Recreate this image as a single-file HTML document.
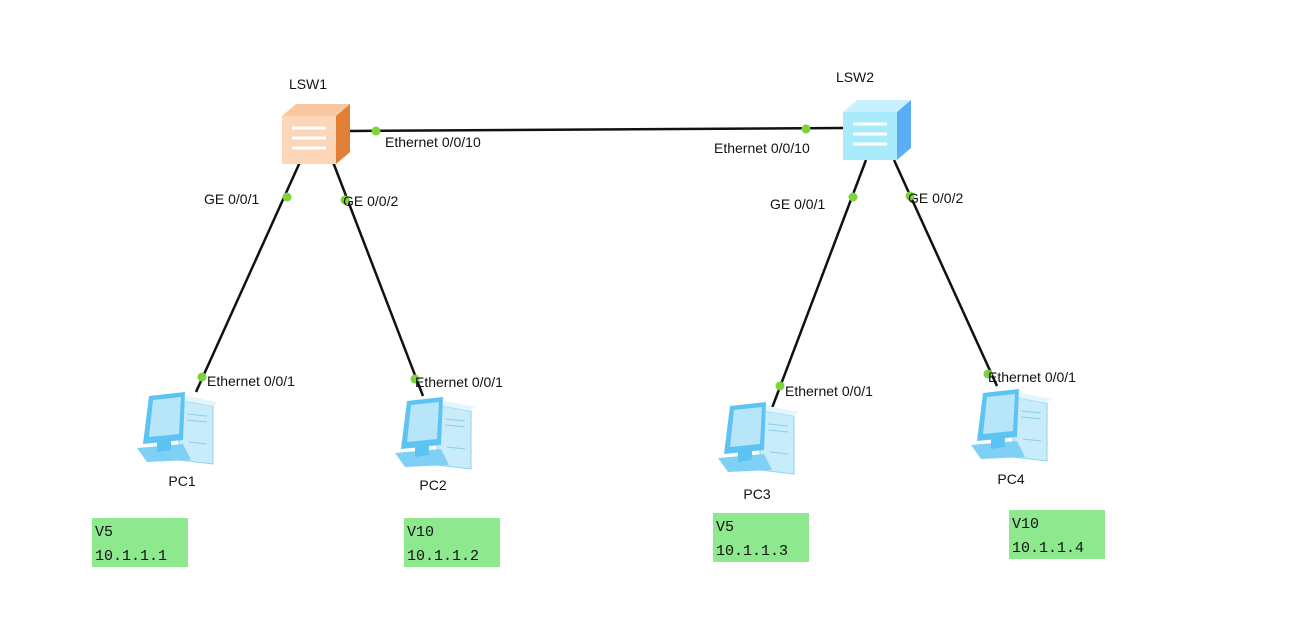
<!DOCTYPE html>
<html><head><meta charset="utf-8"><style>
html,body{margin:0;padding:0;background:#fff;}
svg{display:block;font-family:"Liberation Sans",Arial,sans-serif;}
.l{font-size:14px;fill:#111;}
.m{font-family:"Liberation Mono","DejaVu Sans Mono",monospace;font-size:15px;fill:#111;}
</style></head><body>
<svg width="1311" height="639" viewBox="0 0 1311 639">
<defs>
<g id="pc">
  <polygon points="42,10 76,16 76,74 42,70" fill="#c9ecfb" stroke="#8fd0f0"/>
  <polygon points="42,10 50,6 80,12 76,16" fill="#e3f6fd"/>
  <line x1="50" y1="24" x2="70" y2="26" stroke="#8fcde8"/>
  <line x1="50" y1="30" x2="70" y2="32" stroke="#8fcde8"/>
  <line x1="52" y1="52" x2="70" y2="54" stroke="#8fcde8"/>
  <polygon points="12,6 48,2 46,50 6,54" fill="#5cc3f2"/>
  <polygon points="16,10 44,7 42,44 12,47" fill="#b7e6fb"/>
  <polygon points="0,58 46,54 54,70 10,72" fill="#7fd0f5"/>
  <polygon points="20,52 34,50 34,60 20,62" fill="#5cc3f2"/>
</g>
</defs>
<!-- links -->
<g stroke="#111" stroke-width="2.5">
<line x1="350" y1="131" x2="843" y2="128"/>
<line x1="300" y1="162" x2="196" y2="392"/>
<line x1="333" y1="162" x2="423" y2="396"/>
<line x1="866" y1="160" x2="772" y2="408"/>
<line x1="894" y1="160" x2="997" y2="386"/>
</g>
<!-- switches -->
<g transform="translate(282,104)">
  <polygon points="0,12 14,0 68,0 54,12" fill="#f7c7a0"/>
  <polygon points="54,12 68,0 68,48 54,60" fill="#e07f36"/>
  <rect x="0" y="12" width="54" height="48" fill="#fbd6b8"/>
  <g stroke="#fff" stroke-width="3" fill="none">
    <line x1="10" y1="24" x2="44" y2="24"/><line x1="10" y1="34" x2="44" y2="34"/><line x1="10" y1="44" x2="44" y2="44"/>
  </g>
</g>
<g transform="translate(843,100)">
  <polygon points="0,12 14,0 68,0 54,12" fill="#c9f1fd"/>
  <polygon points="54,12 68,0 68,48 54,60" fill="#5aaef5"/>
  <rect x="0" y="12" width="54" height="48" fill="#a8ecfb"/>
  <g stroke="#fff" stroke-width="3" fill="none">
    <line x1="10" y1="24" x2="44" y2="24"/><line x1="10" y1="34" x2="44" y2="34"/><line x1="10" y1="44" x2="44" y2="44"/>
  </g>
</g>
<text class="l" x="308" y="89" text-anchor="middle" font-size="15">LSW1</text>
<text class="l" x="855" y="82" text-anchor="middle" font-size="15">LSW2</text>
<!-- PCs -->
<use href="#pc" x="137" y="390"/>
<use href="#pc" x="395" y="395"/>
<use href="#pc" x="718" y="400"/>
<use href="#pc" x="971" y="387"/>
<text class="l" x="182" y="486" text-anchor="middle" font-size="15">PC1</text>
<text class="l" x="433" y="490" text-anchor="middle" font-size="15">PC2</text>
<text class="l" x="757" y="499" text-anchor="middle" font-size="15">PC3</text>
<text class="l" x="1011" y="484" text-anchor="middle" font-size="15">PC4</text>
<!-- dots -->
<g fill="#7ed33a">
<circle cx="376" cy="131" r="4.5"/><circle cx="806" cy="129" r="4.5"/>
<circle cx="287" cy="197" r="4.5"/><circle cx="202" cy="377" r="4.5"/>
<circle cx="345" cy="200" r="4.5"/><circle cx="415" cy="379" r="4.5"/>
<circle cx="853" cy="197" r="4.5"/><circle cx="780" cy="386" r="4.5"/>
<circle cx="910" cy="196" r="4.5"/><circle cx="988" cy="374" r="4.5"/>
</g>
<!-- port labels -->
<text class="l" x="385" y="147">Ethernet 0/0/10</text>
<text class="l" x="714" y="153">Ethernet 0/0/10</text>
<text class="l" x="204" y="204">GE 0/0/1</text>
<text class="l" x="343" y="206">GE 0/0/2</text>
<text class="l" x="770" y="209">GE 0/0/1</text>
<text class="l" x="908" y="203">GE 0/0/2</text>
<text class="l" x="207" y="386">Ethernet 0/0/1</text>
<text class="l" x="415" y="387">Ethernet 0/0/1</text>
<text class="l" x="785" y="396">Ethernet 0/0/1</text>
<text class="l" x="988" y="382">Ethernet 0/0/1</text>
<!-- vlan boxes -->
<g fill="#8ee88e">
<rect x="92" y="518" width="96" height="49"/>
<rect x="404" y="518" width="96" height="49"/>
<rect x="713" y="513" width="96" height="49"/>
<rect x="1009" y="510" width="96" height="49"/>
</g>
<text class="m" x="95" y="536">V5</text><text class="m" x="95" y="560">10.1.1.1</text>
<text class="m" x="407" y="536">V10</text><text class="m" x="407" y="560">10.1.1.2</text>
<text class="m" x="716" y="531">V5</text><text class="m" x="716" y="555">10.1.1.3</text>
<text class="m" x="1012" y="528">V10</text><text class="m" x="1012" y="552">10.1.1.4</text>
</svg>
</body></html>
